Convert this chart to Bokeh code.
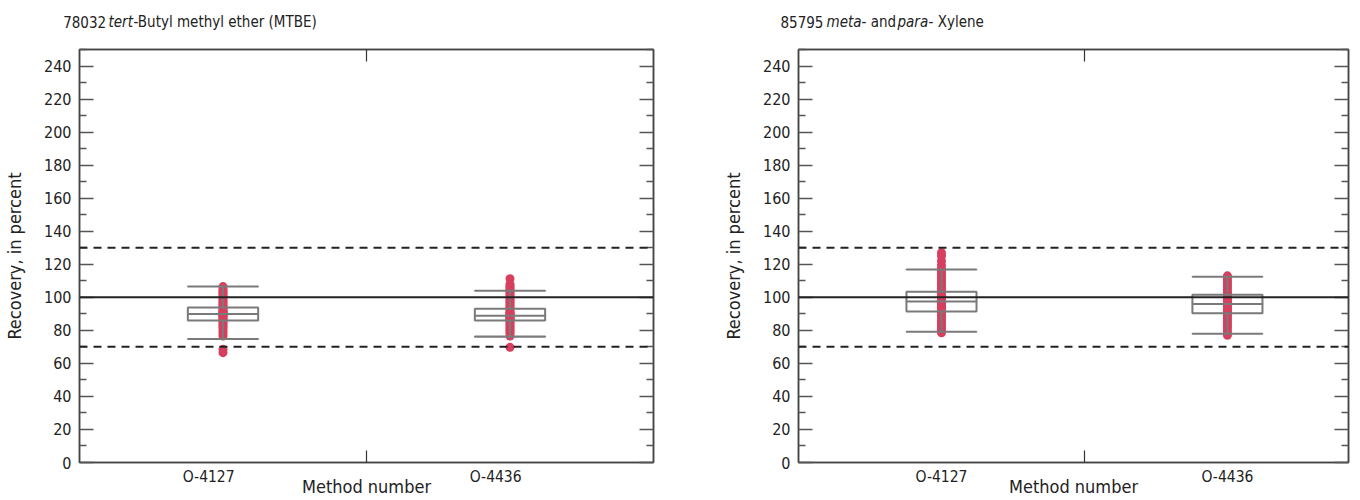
from bokeh.plotting import figure
from bokeh.layouts import row, column
from bokeh.models import (FixedTicker, LinearAxis, Range1d, Span,
                          ColumnDataSource, CustomJSTickFormatter)
from bokeh.core.properties import value
from bokeh.embed import file_html
from bokeh.resources import INLINE

# ---------------- data ----------------
categories = ["O-4127", "O-4436"]
cat_pos = [1, 2]
x_title = "Method number"
y_title = "Recovery, in percent"

# MTBE recoveries (percent)
mtbe_4127 = [66.5, 68.5, 76.5, 78, 79.5, 81, 82, 83, 84, 85, 86, 86.5, 87, 88,
             88.5, 89, 89.5, 90, 90.5, 91, 91.5, 92, 93, 93.5, 94, 95, 96, 97,
             98, 99, 100, 101, 102, 103, 104, 105, 106.5]
mtbe_4436 = [69.7, 76.5, 78, 79, 80, 81, 82, 83, 84, 85, 86, 86.5, 87, 87.5,
             88, 88.5, 89, 89.5, 90, 90.5, 91, 92, 93, 94, 95, 96, 97, 98, 99,
             100, 101, 102, 103, 104, 105, 106, 107, 108, 111.2]
# meta- and para-Xylene recoveries (percent)
xyl_4127 = [78.5, 80, 81.5, 83, 84.5, 86, 87.5, 89, 90, 91, 92, 93, 94, 95,
            96, 97, 97.5, 98, 98.5, 99, 100, 101, 102, 103, 104, 105.5, 107,
            108.5, 110, 111.5, 113, 114.5, 116, 117.5, 119.5, 122, 125, 127]
xyl_4436 = [77, 78.5, 80, 81.5, 83, 84.5, 86, 87.5, 89, 90, 91, 92, 93, 94,
            95, 96, 96.5, 97, 98, 99, 100, 101, 102, 103, 104.5, 106, 107.5,
            109, 110.5, 112, 113]

# box-plot statistics
mtbe_lo = [74.8, 76.2]
mtbe_q1 = [85.9, 85.9]
mtbe_med = [89.9, 88.9]
mtbe_q3 = [93.9, 93.0]
mtbe_hi = [106.5, 103.9]

xyl_lo = [79.2, 78.0]
xyl_q1 = [91.4, 90.4]
xyl_med = [97.5, 96.0]
xyl_q3 = [103.3, 101.6]
xyl_hi = [116.8, 112.5]

target = 100
limits = [70, 130]

y_ticks_major = [0, 20, 40, 60, 80, 100, 120, 140, 160, 180, 200, 220, 240]
y_ticks_minor = [10, 30, 50, 70, 90, 110, 130, 150, 170, 190, 210, 230, 250]

# titles: (text, style)
title_left = [("78032", "normal"), ("tert", "italic"),
              ("-Butyl methyl ether (MTBE)", "normal")]
title_right = [("85795", "normal"), ("meta", "italic"), ("- and", "normal"),
               ("para", "italic"), ("- Xylene", "normal")]

FONT = "'Liberation Sans Narrow', 'DejaVu Sans Condensed', Roboto"
RED = "#d6405e"
GREY = "#7a7a7a"
DARK = "#222222"
AXC = "#444444"
BLANK = CustomJSTickFormatter(code="return ''")


def title_fig(parts, xs, width):
    t = figure(width=width, height=44, output_backend="svg",
               toolbar_location=None, x_range=Range1d(0, width),
               y_range=Range1d(44, 0), x_axis_location=None,
               y_axis_location=None, min_border=0)
    t.outline_line_color = None
    t.xgrid.visible = False
    t.ygrid.visible = False
    for (txt, style), x in zip(parts, xs):
        t.text(x=[x], y=[21], text=[txt], text_font=value(FONT),
               text_font_size="15px", text_font_style=style,
               text_color="#222", text_baseline="alphabetic")
    return t


def make_panel(vals, lo, q1, med, q3, hi, width, left, right, x_end,
               label_shift):
    p = figure(width=width, height=456, output_backend="svg",
               toolbar_location=None, x_range=Range1d(0.5, x_end),
               y_range=Range1d(0, 250), min_border_left=left,
               min_border_right=right, min_border_top=5,
               min_border_bottom=38)
    p.xgrid.visible = False
    p.ygrid.visible = False
    p.outline_line_color = AXC
    p.outline_line_width = 1.5

    # y axis
    ya = p.yaxis[0]
    ya.ticker = FixedTicker(ticks=y_ticks_major, minor_ticks=y_ticks_minor)
    ya.axis_label = y_title
    ya.axis_label_text_font = FONT
    ya.axis_label_text_font_style = "normal"
    ya.axis_label_text_font_size = "18px"
    ya.axis_label_text_color = "#222"
    ya.axis_label_standoff = 16
    ya.major_label_text_font = FONT
    ya.major_label_text_font_size = "16px"
    ya.major_label_text_color = "#222"
    ya.major_label_standoff = 8
    ya.major_tick_in = 14
    ya.major_tick_out = 0
    ya.minor_tick_in = 7
    ya.minor_tick_out = 0
    ya.major_tick_line_color = "#555"
    ya.minor_tick_line_color = "#555"
    ya.major_tick_line_width = 1.5
    ya.minor_tick_line_width = 1.5
    ya.axis_line_color = AXC
    ya.axis_line_width = 1.5

    ra = LinearAxis(ticker=FixedTicker(ticks=y_ticks_major,
                                       minor_ticks=y_ticks_minor),
                    formatter=BLANK, major_tick_in=14,
                    major_tick_out=0, minor_tick_in=7, minor_tick_out=0,
                    major_tick_line_color="#555", minor_tick_line_color="#555",
                    major_tick_line_width=1.5, minor_tick_line_width=1.5,
                    axis_line_color=AXC, axis_line_width=1.5,
                    major_label_standoff=0)
    p.add_layout(ra, "right")

    # x axis (category labels)
    lab_pos = [c - label_shift for c in cat_pos]
    xa = p.xaxis[0]
    xa.ticker = FixedTicker(ticks=lab_pos, minor_ticks=[1.5])
    xa.major_label_overrides = {lab_pos[i]: categories[i] for i in range(2)}
    xa.axis_label = x_title
    xa.axis_label_text_font = FONT
    xa.axis_label_text_font_style = "normal"
    xa.axis_label_text_font_size = "18px"
    xa.axis_label_text_color = "#222"
    xa.axis_label_standoff = -13
    xa.major_label_text_font = FONT
    xa.major_label_text_font_size = "15.5px"
    xa.major_label_text_color = "#222"
    xa.major_label_standoff = 5
    xa.major_tick_in = 0
    xa.major_tick_out = 0
    xa.minor_tick_in = 12
    xa.minor_tick_out = 0
    xa.minor_tick_line_color = "#333"
    xa.minor_tick_line_width = 1.2
    xa.axis_line_color = AXC
    xa.axis_line_width = 1.5

    ta = LinearAxis(ticker=FixedTicker(ticks=cat_pos, minor_ticks=[1.5]),
                    formatter=BLANK, major_tick_in=0,
                    major_tick_out=0, minor_tick_in=12, minor_tick_out=0,
                    minor_tick_line_color="#333", minor_tick_line_width=1.2,
                    axis_line_color=AXC, axis_line_width=1.5,
                    major_label_standoff=0)
    p.add_layout(ta, "above")

    # reference lines
    p.add_layout(Span(location=target, dimension="width", line_color=DARK,
                      line_width=2))
    for lim in limits:
        p.add_layout(Span(location=lim, dimension="width", line_color=DARK,
                          line_width=2, line_dash="8 6"))

    # points
    for i, v in enumerate(vals):
        p.scatter(x=[cat_pos[i]] * len(v), y=v, size=9, color=RED,
                  line_color=None)

    # boxes
    bw = 0.245
    src = ColumnDataSource(dict(x=cat_pos, lo=lo, q1=q1, med=med, q3=q3,
                                hi=hi))
    p.segment(x0="x", y0="lo", x1="x", y1="q1", source=src, line_color=GREY,
              line_width=2)
    p.segment(x0="x", y0="q3", x1="x", y1="hi", source=src, line_color=GREY,
              line_width=2)
    p.vbar(x="x", bottom="q1", top="q3", width=bw, source=src,
           fill_color=None, line_color=GREY, line_width=2)
    for col in ("med", "lo", "hi"):
        p.rect(x="x", y=col, width=bw, height=0.01, source=src,
               fill_color=None, line_color=GREY, line_width=2)
    return p


t1 = title_fig(title_left, [62.7, 108, 133], 720)
t2 = title_fig(title_right, [780 - 720, 826 - 720, 861 - 720, 897 - 720,
                             928 - 720], 640)
p1 = make_panel([mtbe_4127, mtbe_4436], mtbe_lo, mtbe_q1, mtbe_med, mtbe_q3,
                mtbe_hi, width=720, left=79, right=67, x_end=2.5,
                label_shift=0.05)
p2 = make_panel([xyl_4127, xyl_4436], xyl_lo, xyl_q1, xyl_med, xyl_q3, xyl_hi,
                width=640, left=76, right=12, x_end=0.5 + 552 / 287,
                label_shift=0.0)

layout = column(row(t1, t2), row(p1, p2))
open("out.html", "w").write(file_html(layout, INLINE))
